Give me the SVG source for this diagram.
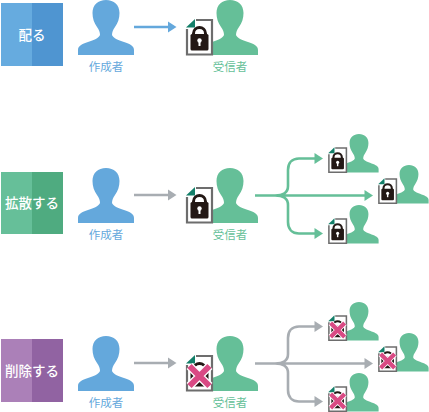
<svg xmlns="http://www.w3.org/2000/svg" width="429" height="412" viewBox="0 0 429 412">
<style>
.lbl{font-family:"Noto Sans CJK JP","Noto Sans",sans-serif;font-size:11.500px;text-anchor:middle}
.ttl{font-family:"Noto Sans CJK JP","Noto Sans",sans-serif;font-size:13.500px;font-weight:500;fill:#fff;text-anchor:middle}
.blue{fill:#64a8dc}.green{fill:#65bf98}
.line{fill:none;stroke-width:2.600}
.gray{stroke:#a8adb2}.gr{stroke:#65bf98}.bl{stroke:#64a8dc}
</style>
<defs>
<path id="person" d="M-28 55V50C-28 46-24 44-18 42C-12 40-7 38-6 35C-6 32-7 30-9 27C-12 23-13.500 18-13.500 13C-13.500 5-8 0 0 0C8 0 13.500 5 13.500 13C13.500 18 12 23 9 27C7 30 6 32 6 35C7 38 12 40 18 42C24 44 28 46 28 50V55Z"/>
<g id="doc">
<rect x="187" y="20" width="25" height="34.500" fill="#fff"/>
<path d="M196 20H212V54.500H187V29" fill="none" stroke="#6d6d6d" stroke-width="2.200"/>
<path d="M186 27.500L195 19V27.500Z" fill="#137f69"/>
</g>
<g id="lock">
<path d="M193.500 35V33.500C193.500 25.500 205.500 25.500 205.500 33.500V35" fill="none" stroke="#231815" stroke-width="3"/>
<rect x="190.500" y="34" width="18" height="16.500" rx="1.500" fill="#231815"/>
<circle cx="199.500" cy="40.500" r="2.200" fill="#fff"/>
<rect x="198.500" y="41" width="2" height="5" fill="#fff"/>
</g>
<g id="cross">
<path d="M189.500 30L209.500 50M209.500 30L189.500 50" stroke="#fff" stroke-width="8.500" fill="none"/>
<path d="M189.500 30L209.500 50M209.500 30L189.500 50" stroke="#d94a84" stroke-width="6" fill="none"/>
</g>
<g id="locked"><use href="#person" x="230" class="green"/><use href="#doc"/><use href="#lock"/></g>
<g id="deleted"><use href="#person" x="230" class="green"/><use href="#doc"/><use href="#lock"/><use href="#cross"/></g>
<path id="head" d="M0 0L-8.500 -5.500V5.500Z"/>
</defs>

<g id="connectors">
<path class="line bl" d="M134 27H169"/><use href="#head" x="176.500" y="27" fill="#64a8dc"/>
<path class="line gray" d="M134 195H169"/><use href="#head" x="176.500" y="195" fill="#a8adb2"/>
<path class="line gr" d="M255 195.500H366M275 195.500C283 195.500 288 193 288 186V170C288 163 292 158.500 299 158.500H316M275 195.500C283 195.500 288 198 288 205V222C288 229 292 233.500 299 233.500H316"/>
<use href="#head" x="373" y="195.500" fill="#65bf98"/><use href="#head" x="323" y="158.500" fill="#65bf98"/><use href="#head" x="323" y="233.500" fill="#65bf98"/>
<path class="line gray" d="M134 363H169"/><use href="#head" x="176.500" y="363" fill="#a8adb2"/>
<path class="line gray" d="M255 363.500H366M275 363.500C283 363.500 288 361 288 354V338C288 331 292 326.500 299 326.500H316M275 363.500C283 363.500 288 366 288 373V390C288 397 292 401.500 299 401.500H316"/>
<use href="#head" x="373" y="363.500" fill="#a8adb2"/><use href="#head" x="323" y="326.500" fill="#a8adb2"/><use href="#head" x="323" y="401.500" fill="#a8adb2"/>
</g>

<g id="box-1"><rect x="1" y="3" width="31" height="63" fill="#66abdf"/><rect x="32" y="3" width="31" height="63" fill="#4f95d1"/><text class="ttl" x="32" y="40">配る</text></g>
<g id="box-2"><rect x="1" y="172" width="31" height="62" fill="#66bf99"/><rect x="32" y="172" width="31" height="62" fill="#4fab80"/><text class="ttl" x="32" y="208">拡散する</text></g>
<g id="box-3"><rect x="1" y="339" width="31" height="63" fill="#ab80b8"/><rect x="32" y="339" width="31" height="63" fill="#9163a2"/><text class="ttl" x="32" y="376">削除する</text></g>

<g id="creator-1"><use href="#person" x="106" y="0" class="blue"/><text class="lbl blue" x="106" y="71">作成者</text></g>
<g id="creator-2"><use href="#person" x="106" y="168" class="blue"/><text class="lbl blue" x="106" y="239">作成者</text></g>
<g id="creator-3"><use href="#person" x="106" y="336" class="blue"/><text class="lbl blue" x="106" y="407">作成者</text></g>

<g id="receiver-1"><use href="#locked"/><text class="lbl green" x="230" y="71">受信者</text></g>
<g id="receiver-2"><use href="#locked" y="168"/><text class="lbl green" x="230" y="239">受信者</text></g>
<g id="receiver-3"><use href="#deleted" y="336"/><text class="lbl green" x="230" y="407">受信者</text></g>

<g id="spread-1"><use href="#locked" transform="translate(198 134) scale(.7)"/></g>
<g id="spread-2"><use href="#locked" transform="translate(248 165) scale(.7)"/></g>
<g id="spread-3"><use href="#locked" transform="translate(198 205) scale(.7)"/></g>
<g id="delete-1"><use href="#deleted" transform="translate(198 302) scale(.7)"/></g>
<g id="delete-2"><use href="#deleted" transform="translate(248 333) scale(.7)"/></g>
<g id="delete-3"><use href="#deleted" transform="translate(198 373) scale(.7)"/></g>
</svg>
